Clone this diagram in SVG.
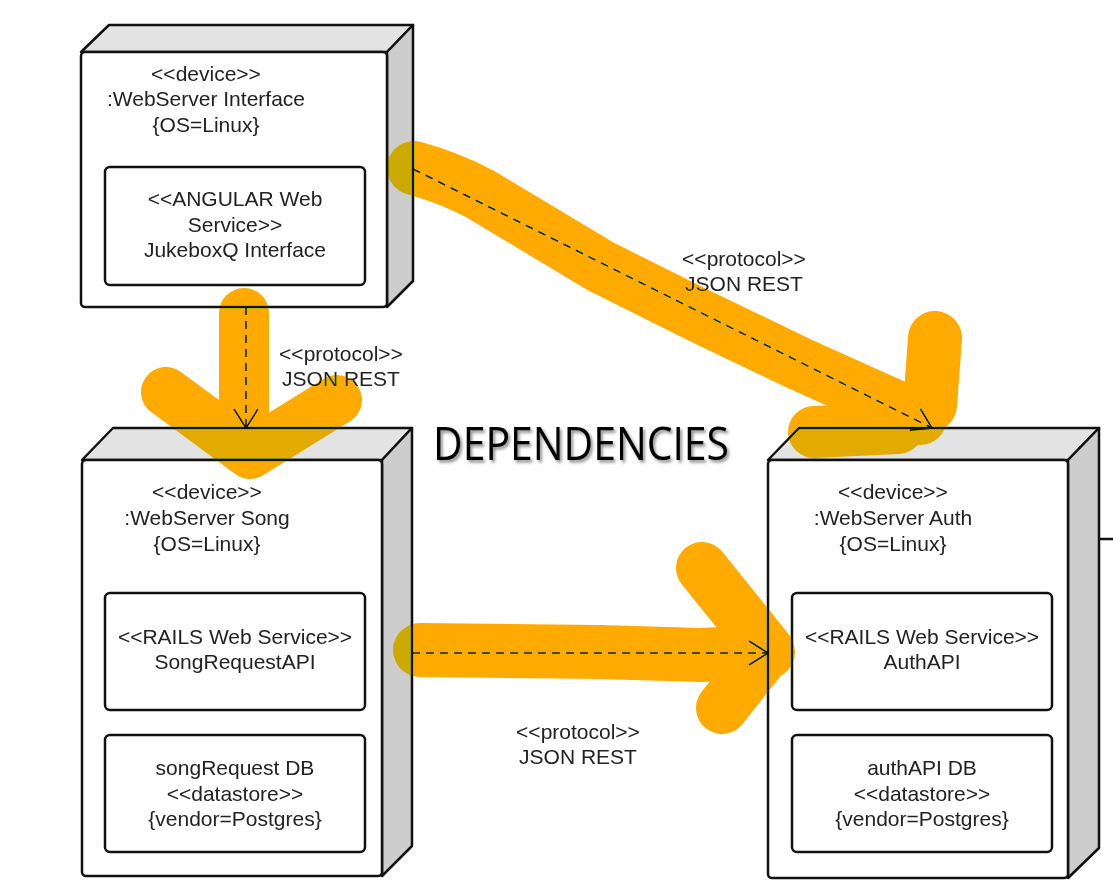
<svg xmlns="http://www.w3.org/2000/svg" width="1113" height="894" viewBox="0 0 1113 894">
<defs>
<style>
.top{fill:#e3e3e3;stroke:#111;stroke-width:2.5;stroke-linejoin:round}
.side{fill:#cdcdcd;stroke:#111;stroke-width:2.5;stroke-linejoin:round}
.front{fill:#fff;stroke:#111;stroke-width:2.5}
.inner{fill:#fff;stroke:#111;stroke-width:2.5}
.t{font-family:"Liberation Sans",Arial,sans-serif;font-size:21px;fill:#222;text-anchor:middle}
.dash{fill:none;stroke:#111;stroke-width:1.6;stroke-dasharray:8 6}
.hl{fill:none;stroke:#FFAA00;stroke-linecap:round;stroke-linejoin:round;mix-blend-mode:darken}
</style>
<marker id="arr" viewBox="0 0 22 26" refX="20" refY="13" markerWidth="22" markerHeight="26" markerUnits="userSpaceOnUse" orient="auto">
<path d="M1,1 L20,13 L1,25" fill="none" stroke="#111" stroke-width="1.6"/>
</marker>
<filter id="sh" x="-10%" y="-30%" width="120%" height="160%">
<feDropShadow dx="2" dy="2.5" stdDeviation="1.5" flood-color="#000" flood-opacity="0.45"/>
</filter>
</defs>
<rect width="1113" height="894" fill="#fff"/>

<g id="node-interface">
<path class="top" d="M81,52 L109,25 L413,25 L387,52 Z"/>
<path class="side" d="M387,52 L413,25 L413,281 L387,307 Z"/>
<rect class="front" x="81" y="52" width="306" height="255" rx="4"/>
<text class="t" x="206" y="80.5">&lt;&lt;device&gt;&gt;</text>
<text class="t" x="206" y="105.5">:WebServer Interface</text>
<text class="t" x="206" y="131.5">{OS=Linux}</text>
<rect class="inner" x="105" y="167" width="260" height="118" rx="5"/>
<text class="t" x="235" y="205.5">&lt;&lt;ANGULAR Web</text>
<text class="t" x="235" y="231.5">Service&gt;&gt;</text>
<text class="t" x="235" y="256.5">JukeboxQ Interface</text>
</g>

<g id="node-song">
<path class="top" d="M82,460 L113,428 L412,428 L382,460 Z"/>
<path class="side" d="M382,460 L412,428 L412,846 L382,876 Z"/>
<rect class="front" x="82" y="460" width="300" height="416" rx="4"/>
<text class="t" x="207" y="498.5">&lt;&lt;device&gt;&gt;</text>
<text class="t" x="207" y="524.5">:WebServer Song</text>
<text class="t" x="207" y="550.5">{OS=Linux}</text>
<rect class="inner" x="105" y="593" width="260" height="117" rx="5"/>
<text class="t" x="235" y="643.5">&lt;&lt;RAILS Web Service&gt;&gt;</text>
<text class="t" x="235" y="668.5">SongRequestAPI</text>
<rect class="inner" x="105" y="735" width="260" height="117" rx="5"/>
<text class="t" x="235" y="774.5">songRequest DB</text>
<text class="t" x="235" y="800.5">&lt;&lt;datastore&gt;&gt;</text>
<text class="t" x="235" y="825.5">{vendor=Postgres}</text>
</g>

<g id="node-auth">
<path class="top" d="M768,460 L799,428 L1099,428 L1068,460 Z"/>
<path class="side" d="M1068,460 L1099,428 L1099,848 L1068,878 Z"/>
<rect class="front" x="768" y="460" width="300" height="418" rx="4"/>
<text class="t" x="893" y="498.5">&lt;&lt;device&gt;&gt;</text>
<text class="t" x="893" y="524.5">:WebServer Auth</text>
<text class="t" x="893" y="550.5">{OS=Linux}</text>
<rect class="inner" x="792" y="593" width="260" height="117" rx="5"/>
<text class="t" x="922" y="643.5">&lt;&lt;RAILS Web Service&gt;&gt;</text>
<text class="t" x="922" y="668.5">AuthAPI</text>
<rect class="inner" x="792" y="735" width="260" height="117" rx="5"/>
<text class="t" x="922" y="774.5">authAPI DB</text>
<text class="t" x="922" y="800.5">&lt;&lt;datastore&gt;&gt;</text>
<text class="t" x="922" y="825.5">{vendor=Postgres}</text>
</g>

<g id="connectors">
<line class="dash" x1="246" y1="307" x2="246" y2="428" marker-end="url(#arr)"/>
<line class="dash" x1="413" y1="169" x2="932" y2="428" marker-end="url(#arr)"/>
<line class="dash" x1="412" y1="653" x2="768" y2="653" marker-end="url(#arr)"/>
<line x1="1099" y1="539" x2="1113" y2="539" stroke="#111" stroke-width="2.5"/>
<text class="t" x="341" y="360.5">&lt;&lt;protocol&gt;&gt;</text>
<text class="t" x="341" y="385.5">JSON REST</text>
<text class="t" x="744" y="265.5">&lt;&lt;protocol&gt;&gt;</text>
<text class="t" x="744" y="290.5">JSON REST</text>
<text class="t" x="578" y="738.5">&lt;&lt;protocol&gt;&gt;</text>
<text class="t" x="578" y="763.5">JSON REST</text>
</g>

<g id="highlights">
<path class="hl" stroke-width="50" d="M244,313 L244,420"/>
<path class="hl" stroke-width="50" d="M166,392 L250,454 L337,400"/>
<path class="hl" stroke-width="54" d="M414,168 Q450,178 480,194 L600,266 L700,316 L800,364 L880,400 L920,418"/>
<path class="hl" stroke-width="54" d="M935,338 L930,405"/>
<path class="hl" stroke-width="52" d="M814,432 L898,428"/>
<path class="hl" stroke-width="54" d="M420,650 L600,652 L700,655 L768,652"/>
<path class="hl" stroke-width="52" d="M702,568 L768,650 L722,708"/>
</g>

<text x="433" y="460" font-family="'Open Sans',sans-serif" font-size="46" textLength="296" lengthAdjust="spacingAndGlyphs" fill="#000" filter="url(#sh)">DEPENDENCIES</text>
</svg>
